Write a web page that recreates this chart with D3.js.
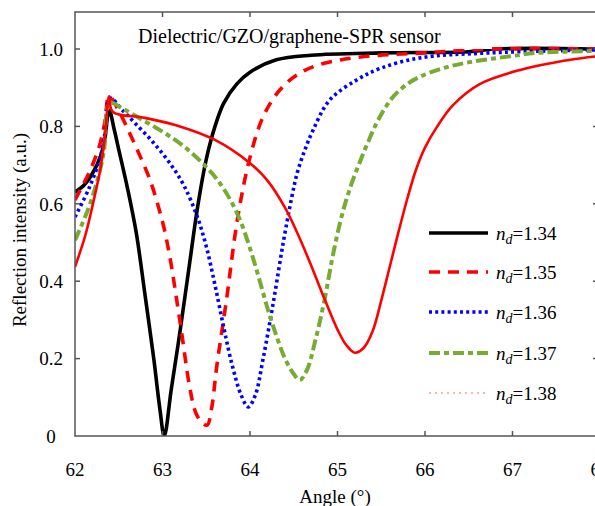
<!DOCTYPE html>
<html>
<head>
<meta charset="utf-8">
<script src="https://cdn.jsdelivr.net/npm/d3@7"></script>
<style>
  body { margin: 0; background: #fff; }
  svg { display: block; }
</style>
</head>
<body>
<div id="chart"></div>
<script>
// reflection curves, [angle, reflectance]
const n134 = [[62,0.63],[62.11,0.65],[62.25,0.70],[62.33,0.752],[62.39,0.842],[62.45,0.79],[62.5,0.74],[62.6,0.64],[62.7,0.525],[62.8,0.365],[62.9,0.2],[62.97,0.07],[63.02,0.0],[63.1,0.12],[63.2,0.27],[63.3,0.43],[63.4,0.59],[63.5,0.715],[63.6,0.8],[63.7,0.86],[63.85,0.91],[64.0,0.94],[64.3,0.972],[64.7,0.984],[65.5,0.99],[66.5,0.993],[66.8,1.0],[68,1.0]];
const n135 = [[62,0.61],[62.16,0.68],[62.28,0.75],[62.34,0.81],[62.39,0.878],[62.5,0.84],[62.63,0.78],[62.75,0.72],[62.86,0.66],[62.95,0.595],[63.02,0.535],[63.09,0.455],[63.15,0.37],[63.22,0.265],[63.31,0.127],[63.38,0.06],[63.45,0.035],[63.51,0.028],[63.56,0.07],[63.62,0.18],[63.73,0.35],[63.86,0.565],[64.0,0.72],[64.15,0.825],[64.34,0.894],[64.55,0.935],[64.8,0.96],[65.29,0.98],[66,0.99],[66.8,1.0],[68,1.0]];
const n136 = [[62,0.566],[62.16,0.64],[62.29,0.72],[62.34,0.78],[62.4,0.873],[62.55,0.84],[62.7,0.805],[62.9,0.757],[63.1,0.7],[63.25,0.645],[63.4,0.565],[63.5,0.49],[63.6,0.39],[63.7,0.28],[63.8,0.18],[63.9,0.105],[63.98,0.075],[64.06,0.105],[64.15,0.2],[64.27,0.35],[64.38,0.5],[64.48,0.62],[64.54,0.68],[64.62,0.735],[64.72,0.79],[64.91,0.868],[65.22,0.92],[65.49,0.95],[65.94,0.977],[66.74,0.99],[68,0.998]];
const n137 = [[62,0.506],[62.14,0.58],[62.25,0.656],[62.33,0.735],[62.4,0.86],[62.55,0.845],[62.7,0.826],[62.9,0.8],[63.1,0.772],[63.3,0.738],[63.5,0.695],[63.65,0.655],[63.8,0.6],[63.9,0.55],[64.0,0.485],[64.1,0.41],[64.2,0.33],[64.3,0.26],[64.4,0.2],[64.5,0.16],[64.57,0.145],[64.65,0.17],[64.75,0.25],[64.85,0.35],[64.95,0.47],[65.05,0.57],[65.15,0.645],[65.25,0.705],[65.35,0.76],[65.45,0.81],[65.55,0.85],[65.65,0.88],[65.8,0.91],[65.94,0.928],[66.2,0.95],[66.51,0.966],[67.0,0.982],[67.28,0.99],[68,0.995]];
const n138 = [[62,0.437],[62.12,0.52],[62.21,0.605],[62.29,0.69],[62.34,0.77],[62.39,0.878],[62.43,0.838],[62.8,0.822],[63.2,0.8],[63.6,0.765],[64.0,0.705],[64.2,0.66],[64.4,0.59],[64.55,0.52],[64.7,0.44],[64.85,0.355],[65.0,0.275],[65.1,0.235],[65.2,0.215],[65.3,0.228],[65.4,0.27],[65.5,0.35],[65.6,0.44],[65.7,0.53],[65.8,0.615],[65.9,0.69],[66.0,0.745],[66.14,0.8],[66.32,0.855],[66.63,0.91],[67.09,0.946],[67.66,0.972],[68,0.982]];

const labels = ["1.34", "1.35", "1.36", "1.37", "1.38"];
const xTicks = [62, 63, 64, 65, 66, 67, 68];
const yTicks = [0, 0.2, 0.4, 0.6, 0.8, 1.0];

const W = 595, H = 506;
const plot = { left: 75, right: 600, top: 12, bottom: 436 };
const serif = "Liberation Serif";

const x = d3.scaleLinear().domain([62, 68]).range([plot.left, plot.right]);
const y = d3.scaleLinear().domain([0, 1]).range([plot.bottom, 49]);

const styles = [
  { color: "#000", width: 3.6, dash: null },
  { color: "#ff0000", width: 3.6, dash: "11,8" },
  { color: "#0000ff", width: 3.6, dash: "3,3.2" },
  { color: "#77ab32", width: 4, dash: "11,4,5,4" },
  { color: "#ff0000", width: 2.6, dash: null }
];
const series = [n134, n135, n136, n137, n138];

const svg = d3.select("#chart").append("svg")
  .attr("width", W)
  .attr("height", H);

svg.append("clipPath").attr("id", "plot")
  .append("rect")
  .attr("x", plot.left).attr("y", plot.top)
  .attr("width", plot.right - plot.left).attr("height", plot.bottom - plot.top);

const line = d3.line()
  .x(d => x(d[0]))
  .y(d => y(d[1]))
  .curve(d3.curveCatmullRom.alpha(0.5));

const curves = svg.append("g").attr("clip-path", "url(#plot)");
series.forEach((s, i) => {
  curves.append("path")
    .datum(s)
    .attr("d", line)
    .attr("fill", "none")
    .attr("stroke", styles[i].color)
    .attr("stroke-width", styles[i].width)
    .attr("stroke-dasharray", styles[i].dash)
    .attr("stroke-linejoin", "round");
});

// title sits in a white box that hides the curves under it
svg.append("rect")
  .attr("x", 130).attr("y", 18)
  .attr("width", 362).attr("height", 31)
  .attr("fill", "#fff");
svg.append("text")
  .attr("x", 138).attr("y", 43)
  .style("font-family", serif)
  .style("font-size", "20px")
  .text("Dielectric/GZO/graphene-SPR sensor");

// frame and inward ticks
const axisColor = "#555";
const frame = svg.append("g")
  .attr("stroke", axisColor)
  .attr("stroke-width", 1.5)
  .attr("fill", "none");
frame.append("path")
  .attr("d", `M${plot.right},${plot.top}H${plot.left}V${plot.bottom}H${plot.right}V${plot.top}`);

const tk = 5;
xTicks.slice(1, -1).forEach(t => {
  frame.append("line").attr("x1", x(t)).attr("x2", x(t)).attr("y1", plot.bottom).attr("y2", plot.bottom - tk);
  frame.append("line").attr("x1", x(t)).attr("x2", x(t)).attr("y1", plot.top).attr("y2", plot.top + tk);
});
yTicks.slice(1).forEach(t => {
  frame.append("line").attr("x1", plot.left).attr("x2", plot.left + tk).attr("y1", y(t)).attr("y2", y(t));
  frame.append("line").attr("x1", plot.right - 2).attr("x2", plot.right - 2 - tk).attr("y1", y(t)).attr("y2", y(t));
});

svg.append("g").selectAll("text")
  .data(xTicks)
  .join("text")
  .attr("x", d => x(d))
  .attr("y", 476)
  .attr("text-anchor", "middle")
  .style("font-family", serif)
  .style("font-size", "19px")
  .text(d => d);

svg.append("g").selectAll("text")
  .data(yTicks)
  .join("text")
  .attr("x", 51)
  .attr("y", d => y(d))
  .attr("dy", "0.36em")
  .attr("text-anchor", "middle")
  .style("font-family", serif)
  .style("font-size", "19px")
  .text(d => d === 0 ? "0" : d3.format(".1f")(d));

svg.append("text")
  .attr("x", 335).attr("y", 503)
  .attr("text-anchor", "middle")
  .style("font-family", serif)
  .style("font-size", "19px")
  .text("Angle (°)");

svg.append("text")
  .attr("transform", "translate(26,230) rotate(-90)")
  .attr("text-anchor", "middle")
  .style("font-family", serif)
  .style("font-size", "19px")
  .text("Reflection intensity (a.u.)");

// legend
const legendY = [233, 272, 312, 353, 393];
const legend = svg.append("g");
labels.forEach((lab, i) => {
  const st = i === 4 ? { color: "#ffb3b3", width: 2, dash: "2,4" } : styles[i];
  legend.append("line")
    .attr("x1", 429).attr("x2", 488)
    .attr("y1", legendY[i]).attr("y2", legendY[i])
    .attr("stroke", st.color)
    .attr("stroke-width", st.width)
    .attr("stroke-dasharray", st.dash);
  const t = legend.append("text")
    .attr("x", 496).attr("y", legendY[i] + 7)
    .style("font-family", serif)
    .style("font-size", "19px");
  t.append("tspan").style("font-style", "italic").text("n");
  t.append("tspan").style("font-style", "italic").style("font-size", "14px").attr("dy", 4).text("d");
  t.append("tspan").attr("dy", -4).text("=" + lab);
});
</script>
</body>
</html>
